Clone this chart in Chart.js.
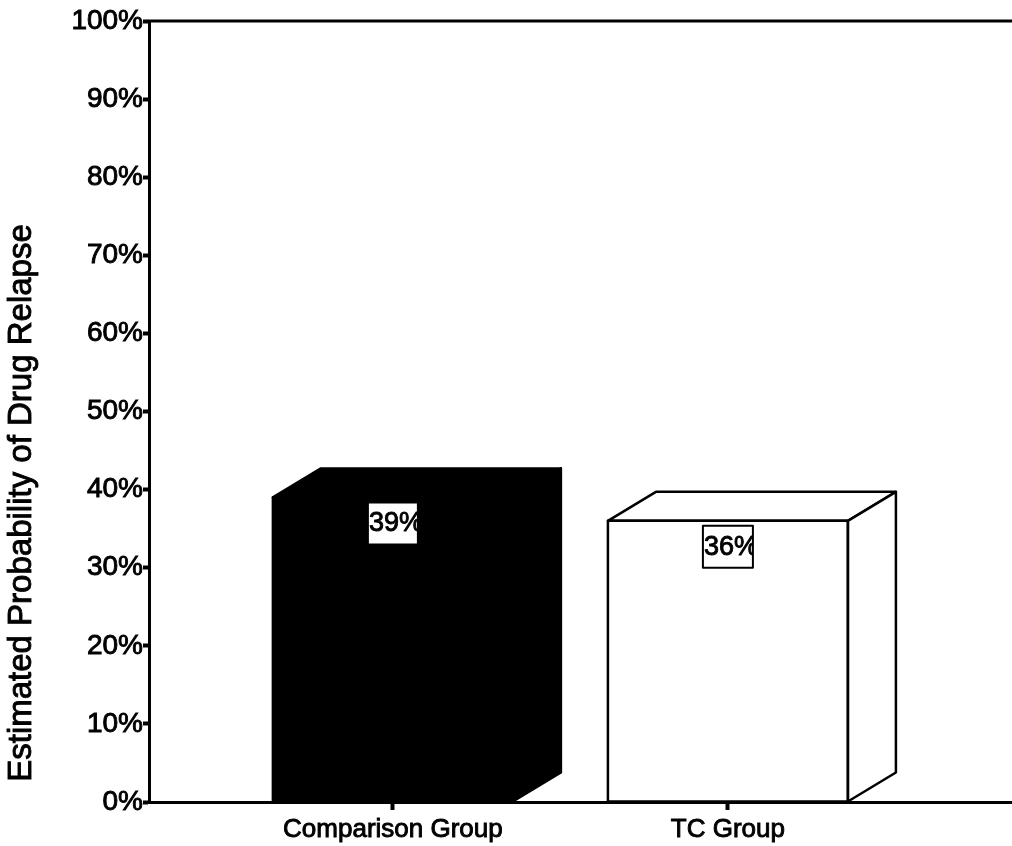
<!DOCTYPE html>
<html>
<head>
<meta charset="utf-8">
<title>Estimated Probability of Drug Relapse</title>
<script src="https://cdn.jsdelivr.net/npm/chart.js@4/dist/chart.umd.min.js"></script>
<style>
  html, body { margin: 0; padding: 0; background: #ffffff; }
  canvas { display: block; }
</style>
</head>
<body>
<canvas id="chart" width="1012" height="846"></canvas>
<script>
// ---- data ----
const categories = ['Comparison Group', 'TC Group'];
const relapsePct = [39, 36];
const barFills = ['#000000', '#ffffff'];
const yTickValues = [0, 10, 20, 30, 40, 50, 60, 70, 80, 90, 100];
const yTitle = 'Estimated Probability of Drug Relapse';

// ---- styling ----
const FONT = '"Liberation Sans", Arial, Helvetica, sans-serif';
const TEXT_STROKE = 0.9; // slightly heavier glyphs
const DEPTH_X = 48;   // extrusion of the 3-D boxes, to the right
const DEPTH_Y = -29;  // and upward

// Top face, right side face and the value box of each bar.
const box3d = {
  id: 'box3d',
  afterDatasetsDraw(chart) {
    const ctx = chart.ctx;
    const meta = chart.getDatasetMeta(0);
    meta.data.forEach((bar, i) => {
      const { x, y, base, width } = bar.getProps(['x', 'y', 'base', 'width'], true);
      const l = x - width / 2, r = x + width / 2;
      ctx.save();
      ctx.fillStyle = barFills[i];
      ctx.strokeStyle = '#000';
      ctx.lineWidth = 2.5;
      ctx.lineJoin = 'round';
      // top face
      ctx.beginPath();
      ctx.moveTo(l, y);
      ctx.lineTo(l + DEPTH_X, y + DEPTH_Y);
      ctx.lineTo(r + DEPTH_X, y + DEPTH_Y);
      ctx.lineTo(r, y);
      ctx.closePath();
      ctx.fill();
      ctx.stroke();
      // side face
      ctx.beginPath();
      ctx.moveTo(r, y);
      ctx.lineTo(r + DEPTH_X, y + DEPTH_Y);
      ctx.lineTo(r + DEPTH_X, base + DEPTH_Y);
      ctx.lineTo(r, base);
      ctx.closePath();
      ctx.fill();
      ctx.stroke();
      // front outline
      ctx.strokeRect(l, y, width, base - y);

      // value label in a small white box, text clipped by the box
      const bw = 50, bh = 42;
      const bx = x - bw / 2, by = y + 5;
      ctx.fillStyle = '#ffffff';
      ctx.fillRect(bx, by, bw, bh);
      ctx.lineWidth = 2;
      ctx.strokeRect(bx, by, bw, bh);
      ctx.beginPath();
      ctx.rect(bx, by, bw, bh);
      ctx.clip();
      ctx.fillStyle = '#000';
      ctx.font = '27px ' + FONT;
      ctx.textAlign = 'left';
      ctx.textBaseline = 'alphabetic';
      ctx.lineWidth = TEXT_STROKE;
      ctx.fillText(relapsePct[i] + '%', bx + 1, by + 29);
      ctx.strokeText(relapsePct[i] + '%', bx + 1, by + 29);
      ctx.restore();
    });
  }
};

// Frame line along the top of the plot and the rotated y-axis title.
const frame = {
  id: 'frame',
  beforeDatasetsDraw(chart) {
    const { ctx, chartArea } = chart;
    ctx.save();
    ctx.strokeStyle = '#000';
    ctx.lineWidth = 3;
    ctx.beginPath();
    ctx.moveTo(chartArea.left - 1.5, chartArea.top);
    ctx.lineTo(chartArea.right, chartArea.top);
    ctx.stroke();
    ctx.restore();
  },
  afterDraw(chart) {
    const { ctx } = chart;
    ctx.save();
    ctx.translate(22, 503);
    ctx.rotate(-Math.PI / 2);
    ctx.fillStyle = '#000';
    ctx.strokeStyle = '#000';
    ctx.lineWidth = TEXT_STROKE;
    ctx.font = '33px ' + FONT;
    ctx.textAlign = 'center';
    ctx.textBaseline = 'middle';
    ctx.fillText(yTitle, 0, 0);
    ctx.strokeText(yTitle, 0, 0);
    ctx.restore();
  }
};

new Chart(document.getElementById('chart'), {
  type: 'bar',
  data: {
    datasets: [{
      data: categories.map((c, i) => ({ x: i, y: relapsePct[i] })),
      backgroundColor: barFills,
      borderColor: '#000',
      borderWidth: 0,
      barThickness: 240
    }]
  },
  options: {
    responsive: false,
    animation: false,
    layout: { padding: { top: 21, right: 0, bottom: 0, left: 0 } },
    plugins: { legend: { display: false }, tooltip: { enabled: false } },
    scales: {
      x: {
        type: 'linear',
        offset: false,
        min: -0.728,
        max: 1.848,
        afterBuildTicks: s => { s.ticks = categories.map((c, i) => ({ value: i })); },
        afterFit: s => { s.height = 44; },
        grid: { offset: false, drawOnChartArea: false, drawTicks: true, tickLength: 8, tickWidth: 4, tickColor: '#000' },
        border: { display: true, color: '#000', width: 3 },
        ticks: {
          callback: v => categories[v] ?? '',
          color: '#000',
          textStrokeColor: '#000',
          textStrokeWidth: TEXT_STROKE,
          font: { family: FONT, size: 26 },
          padding: 4,
          maxRotation: 0,
          autoSkip: false
        }
      },
      y: {
        min: 0,
        max: 100,
        afterBuildTicks: s => { s.ticks = yTickValues.map(v => ({ value: v })); },
        afterFit: s => { s.width = 149; },
        grid: { drawOnChartArea: false, drawTicks: true, tickLength: 6, tickWidth: 4, tickColor: '#000' },
        border: { display: true, color: '#000', width: 3 },
        ticks: {
          callback: v => v + '%',
          color: '#000',
          textStrokeColor: '#000',
          textStrokeWidth: TEXT_STROKE,
          font: { family: FONT, size: 28 },
          padding: 0
        }
      }
    }
  },
  plugins: [frame, box3d]
});
</script>
</body>
</html>
